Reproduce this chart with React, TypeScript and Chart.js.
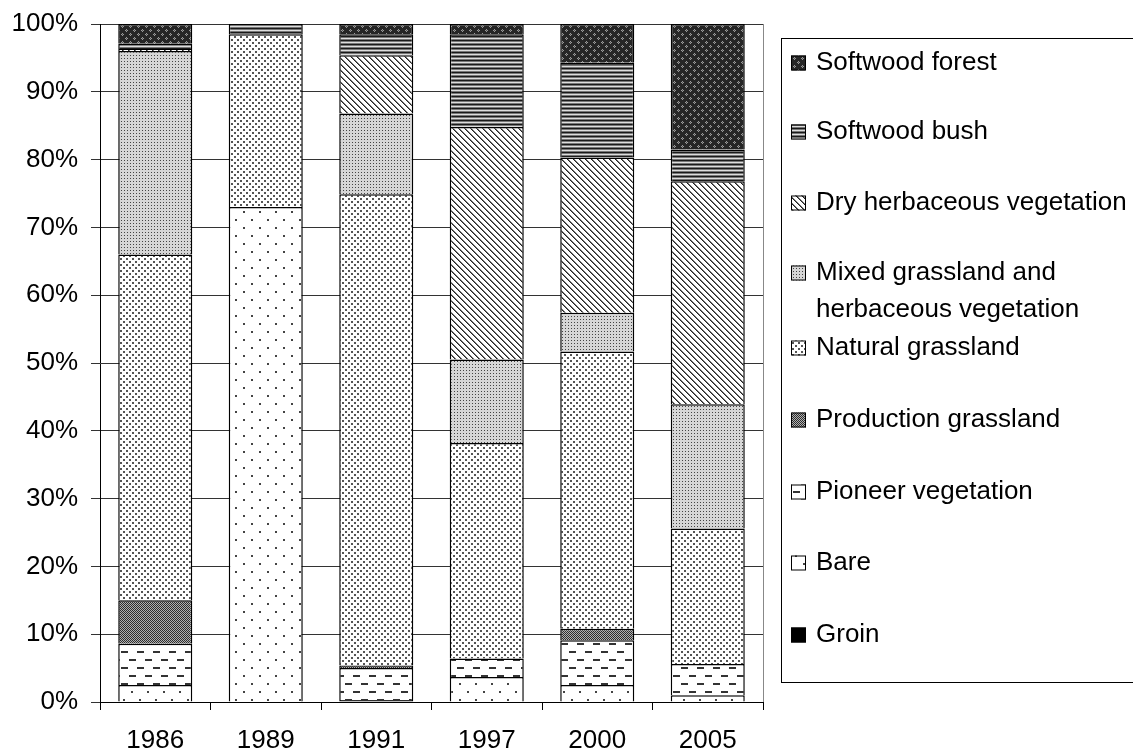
import React, { useEffect, useRef } from "react";
import { Chart, registerables } from "chart.js";

Chart.register(...registerables);

const years = ["1986", "1989", "1991", "1997", "2000", "2005"];
const groin = [0, 0, 0.3, 0, 0, 0];
const bare = [2.5, 73.0, 0, 3.7, 2.5, 1.0];
const pioneer = [6.1, 0, 4.7, 2.7, 6.6, 4.6];
const production = [6.4, 0, 0.4, 0, 1.7, 0];
const natural = [51.0, 25.5, 69.5, 31.8, 40.9, 20.0];
const mixed = [30.0, 0, 11.9, 12.3, 5.7, 18.3];
const dry = [0.3, 0, 8.6, 34.3, 22.9, 32.9];
const bush = [0.8, 1.5, 3.1, 13.7, 14.0, 4.7];
const forest = [2.9, 0, 1.5, 1.5, 5.7, 18.5];

const seriesNames = [
  "Groin",
  "Bare",
  "Pioneer vegetation",
  "Production grassland",
  "Natural grassland",
  "Mixed grassland and herbaceous vegetation",
  "Dry herbaceous vegetation",
  "Softwood bush",
  "Softwood forest",
];
const seriesValues = [groin, bare, pioneer, production, natural, mixed, dry, bush, forest];

const FONT = "'Liberation Sans', Arial, sans-serif";

function makePattern(w: number, h: number, draw: (c: CanvasRenderingContext2D) => void) {
  const cv = document.createElement("canvas");
  cv.width = w;
  cv.height = h;
  const c = cv.getContext("2d")!;
  draw(c);
  return c.createPattern(cv, "repeat")!;
}

function buildPatterns(): (string | CanvasPattern)[] {
  const groinP = "#000000";
  const bareP = makePattern(16, 16, (c) => {
    c.fillStyle = "#fff";
    c.fillRect(0, 0, 16, 16);
    c.fillStyle = "#444";
    c.fillRect(3, 3, 2, 2);
    c.fillRect(11, 11, 2, 2);
  });
  const pioneerP = makePattern(16, 16, (c) => {
    c.fillStyle = "#fff";
    c.fillRect(0, 0, 16, 16);
    c.fillStyle = "#333";
    c.fillRect(1, 3, 7, 2);
    c.fillRect(9, 11, 7, 2);
  });
  const productionP = makePattern(2, 2, (c) => {
    c.fillStyle = "#b0b0b0";
    c.fillRect(0, 0, 2, 2);
    c.fillStyle = "#2e2e2e";
    c.fillRect(0, 0, 1, 1);
    c.fillRect(1, 1, 1, 1);
  });
  const naturalP = makePattern(6, 6, (c) => {
    c.fillStyle = "#fff";
    c.fillRect(0, 0, 6, 6);
    c.fillStyle = "#555";
    c.fillRect(0, 0, 2, 2);
    c.fillRect(3, 3, 2, 2);
  });
  const mixedP = makePattern(3, 3, (c) => {
    c.fillStyle = "#d6d6d6";
    c.fillRect(0, 0, 3, 3);
    c.fillStyle = "#444";
    c.fillRect(1, 1, 1, 1);
  });
  const dryP = makePattern(6, 6, (c) => {
    c.fillStyle = "#fff";
    c.fillRect(0, 0, 6, 6);
    for (let y = 0; y < 6; y++) {
      for (let x = 0; x < 6; x++) {
        const d = (((x - y) % 6) + 6) % 6;
        if (d === 0) {
          c.fillStyle = "#222";
          c.fillRect(x, y, 1, 1);
        } else if (d === 1) {
          c.fillStyle = "#777";
          c.fillRect(x, y, 1, 1);
        }
      }
    }
  });
  const bushP = makePattern(4, 4, (c) => {
    c.fillStyle = "#1a1a1a";
    c.fillRect(0, 0, 4, 1);
    c.fillStyle = "#777";
    c.fillRect(0, 1, 4, 1);
    c.fillStyle = "#ddd";
    c.fillRect(0, 2, 4, 1);
    c.fillStyle = "#777";
    c.fillRect(0, 3, 4, 1);
  });
  const forestP = makePattern(8, 8, (c) => {
    c.fillStyle = "#262626";
    c.fillRect(0, 0, 8, 8);
    const centers = [
      [2, 2],
      [6, 6],
    ];
    for (const [cx, cy] of centers) {
      c.fillStyle = "#9a9a9a";
      c.fillRect(cx - 1, cy, 1, 1);
      c.fillRect(cx + 1, cy, 1, 1);
      c.fillRect(cx, cy - 1, 1, 1);
      c.fillRect(cx, cy + 1, 1, 1);
      c.fillStyle = "#555";
      c.fillRect(cx, cy, 1, 1);
    }
  });
  return [groinP, bareP, pioneerP, productionP, naturalP, mixedP, dryP, bushP, forestP];
}

// legend layout (text line centers, top entry first)
const legendLineY = [63, 132, 203, 273, 348, 420, 492, 563, 635];

const legendPlugin = {
  id: "customLegend",
  afterDraw(chart: any) {
    const ctx: CanvasRenderingContext2D = chart.ctx;
    const ds = chart.data.datasets;
    ctx.save();
    ctx.strokeStyle = "#000";
    ctx.lineWidth = 1;
    ctx.strokeRect(781.5, 38.5, 400, 644);
    ctx.font = `26px ${FONT}`;
    ctx.textBaseline = "middle";
    ctx.textAlign = "left";
    const textX = 816;
    const maxW = 1133 - textX - 2;
    const order = ds.map((_: any, i: number) => i).reverse();
    order.forEach((di: number, k: number) => {
      const d = ds[di];
      const y = legendLineY[k];
      const words = String(d.label).split(" ");
      const lines: string[] = [];
      let cur = "";
      for (const w of words) {
        const t = cur ? cur + " " + w : w;
        if (ctx.measureText(t).width > maxW && cur) {
          lines.push(cur);
          cur = w;
        } else cur = t;
      }
      if (cur) lines.push(cur);
      ctx.fillStyle = d.backgroundColor;
      ctx.fillRect(791, y - 7.5, 15, 15);
      ctx.strokeStyle = "#000";
      ctx.strokeRect(791.5, y - 7, 14, 14);
      ctx.fillStyle = "#000";
      lines.forEach((ln, li) => ctx.fillText(ln, textX, y + li * 37));
    });
    ctx.restore();
  },
};

const borderPlugin = {
  id: "plotBorder",
  afterDatasetsDraw(chart: any) {
    const { ctx, chartArea } = chart;
    ctx.save();
    ctx.strokeStyle = "#888";
    ctx.lineWidth = 1;
    ctx.beginPath();
    ctx.moveTo(Math.round(chartArea.right) + 0.5, chartArea.top);
    ctx.lineTo(Math.round(chartArea.right) + 0.5, chartArea.bottom);
    ctx.stroke();
    ctx.restore();
  },
};

export default function App() {
  const ref = useRef<HTMLCanvasElement>(null);
  useEffect(() => {
    if (!ref.current) return;
    const patterns = buildPatterns();
    const chart = new Chart(ref.current, {
      type: "bar",
      data: {
        labels: years,
        datasets: seriesNames.map((name, i) => ({
          label: name,
          data: seriesValues[i].map((v) => (v === 0 ? null : v)),
          backgroundColor: patterns[i] as any,
          borderColor: "#000",
          borderWidth: 1.5,
          categoryPercentage: 1,
          barPercentage: 0.67,
        })),
      },
      options: {
        responsive: false,
        animation: false,
        layout: { padding: { top: 24, right: 370, left: 0, bottom: 0 } },
        plugins: { legend: { display: false }, tooltip: { enabled: false } },
        scales: {
          x: {
            stacked: true,
            grid: { offset: true, drawOnChartArea: false, tickLength: 8, color: "#000" },
            border: { color: "#000" },
            ticks: { font: { size: 26, family: FONT }, color: "#000", padding: 15 },
            afterFit: (s: any) => {
              s.height = 49;
            },
          },
          y: {
            stacked: true,
            min: 0,
            max: 100,
            ticks: {
              stepSize: 10,
              callback: (v: any) => v + "%",
              font: { size: 26, family: FONT, lineHeight: 1 },
              color: "#000",
              padding: 13,
            },
            grid: { color: "#333", tickLength: 9 },
            border: { color: "#000" },
            afterFit: (s: any) => {
              s.width = 100;
              s.paddingTop = 0;
              s.paddingBottom = 0;
            },
          },
        },
      },
      plugins: [legendPlugin, borderPlugin],
    });
    return () => chart.destroy();
  }, []);
  return (
    <canvas
      ref={ref}
      width={1133}
      height={751}
      style={{ position: "absolute", left: 0, top: 0, display: "block", background: "#fff" }}
    />
  );
}
